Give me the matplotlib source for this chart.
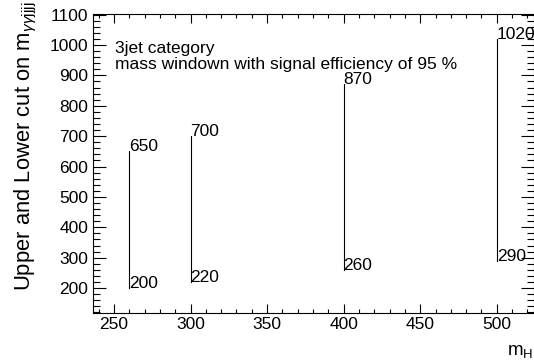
import matplotlib
matplotlib.use("Agg")
import matplotlib.pyplot as plt
from matplotlib.ticker import MultipleLocator

plt.rcParams['font.family'] = ['Liberation Sans', 'DejaVu Sans']
plt.rcParams['mathtext.fontset'] = 'custom'
plt.rcParams['mathtext.rm'] = 'Liberation Sans'
plt.rcParams['mathtext.it'] = 'Liberation Sans:italic'

# Higgs mass points and the lower/upper cut of the m_yyjjjj window
mass_points = [260, 300, 400, 500]
lower_cut = [200, 220, 260, 290]
upper_cut = [650, 700, 870, 1020]

FS = 12.5
TITLE_FS = 15.8

fig = plt.figure(figsize=(5.34, 3.64), dpi=100)
ax = fig.add_axes([92.5 / 534, 1 - 313 / 364, (533.5 - 92.5) / 534, (313 - 14) / 364])

for m, lo, hi in zip(mass_points, lower_cut, upper_cut):
    ax.plot([m, m], [lo, hi], color='black', lw=0.8)
    ax.text(m, hi, f"{hi}", ha='left', va='baseline', fontsize=FS)
    ax.text(m, lo, f"{lo}", ha='left', va='baseline', fontsize=FS)

ax.set_xlim(236, 524)
ax.set_ylim(118, 1102)

ax.xaxis.set_major_locator(MultipleLocator(50))
ax.xaxis.set_minor_locator(MultipleLocator(10))
ax.yaxis.set_major_locator(MultipleLocator(100))
ax.yaxis.set_minor_locator(MultipleLocator(20))

ax.tick_params(axis='both', which='both', direction='in', top=True, right=True,
               labelsize=FS, width=0.8, color='black')
ax.tick_params(axis='x', which='major', length=6.7, pad=3)
ax.tick_params(axis='x', which='minor', length=3.1)
ax.tick_params(axis='y', which='major', length=9.6, pad=3)
ax.tick_params(axis='y', which='minor', length=4.8)
for s in ax.spines.values():
    s.set_linewidth(0.8)

ax.text(0.051, 0.8706, "3jet category", transform=ax.transAxes,
        ha='left', va='baseline', fontsize=FS)
ax.text(0.051, 0.8144, "mass windown with signal efficiency of 95 %",
        transform=ax.transAxes, ha='left', va='baseline', fontsize=FS)

fig.text(26 / 534, 1 - 1 / 364,
         r"Upper and Lower cut on m$_{\gamma\gamma \mathrm{jjjj}}$",
         rotation=90, ha='center', va='top', fontsize=TITLE_FS)
fig.text(533.5 / 534, 1 - 355 / 364, r"m$_{\mathrm{H}}$",
         ha='right', va='baseline', fontsize=13.5)

fig.savefig("out.png", dpi=100)
